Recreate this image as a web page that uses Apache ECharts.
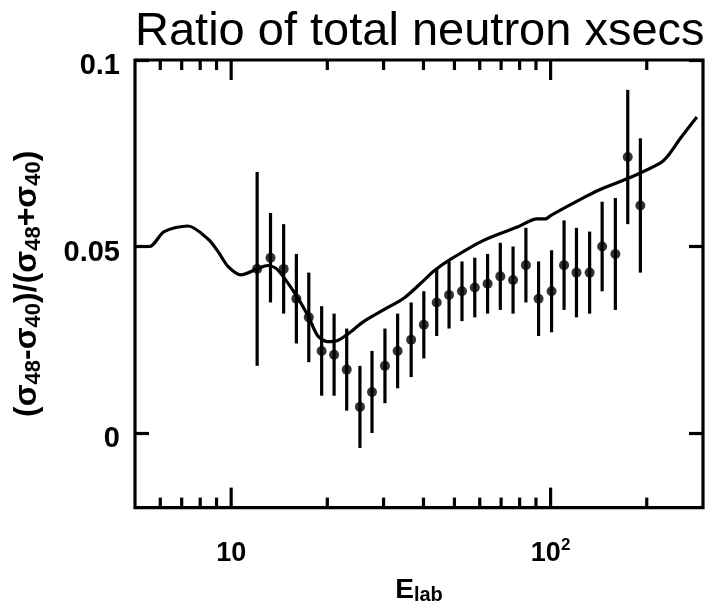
<!DOCTYPE html>
<html>
<head>
<meta charset="utf-8">
<script src="https://cdn.jsdelivr.net/npm/echarts@6/dist/echarts.min.js"></script>
<style>
html,body{margin:0;padding:0;background:#fff;}
#chart{width:712px;height:610px;}
</style>
</head>
<body>
<div id="chart"></div>
<script>
// Measured data points: energy (E_lab), ratio, error
var energy = [12.06, 13.28, 14.6, 16.0, 17.5, 19.2, 21.0, 23.0, 25.3, 27.6, 30.3, 33.2, 36.6, 40.1, 44.0, 48.1, 52.8, 57.9, 63.5, 69.6, 76.3, 83.7, 91.7, 100.7, 110.2, 120.5, 132.5, 145, 159.5, 174.4, 191];
var ratio  = [0.044, 0.047, 0.044, 0.036, 0.031, 0.022, 0.021, 0.017, 0.007, 0.011, 0.018, 0.022, 0.025, 0.029, 0.035, 0.037, 0.038, 0.039, 0.040, 0.042, 0.041, 0.045, 0.036, 0.038, 0.045, 0.043, 0.043, 0.050, 0.048, 0.074, 0.061];
var errors = [0.026, 0.012, 0.012, 0.012, 0.012, 0.012, 0.011, 0.011, 0.011, 0.011, 0.010, 0.010, 0.010, 0.009, 0.009, 0.009, 0.008, 0.008, 0.008, 0.009, 0.009, 0.010, 0.010, 0.011, 0.012, 0.012, 0.011, 0.012, 0.015, 0.018, 0.018];

// Theory curve
var curveE = [5, 5.55, 6.17, 7.32, 8.46, 9.09, 9.77, 10.74, 12.06, 13.02, 14.0, 16.0, 17.5, 18.66, 20.05, 21.55, 23.15, 26.1, 30.1, 34.8, 40.2, 43.2, 48.7, 61.9, 78.7, 90.8, 96.5, 100, 127, 143, 182, 221, 232, 255, 287];
var curveV = [0.050, 0.050, 0.054, 0.0555, 0.052, 0.0487, 0.0447, 0.0424, 0.044, 0.0449, 0.0437, 0.0368, 0.031, 0.0261, 0.0245, 0.0248, 0.0265, 0.030, 0.0331, 0.0362, 0.041, 0.0435, 0.0466, 0.0517, 0.0552, 0.0574, 0.0574, 0.0583, 0.0631, 0.0653, 0.0689, 0.0724, 0.0741, 0.079, 0.0847];

// Axis ticks
var xMajorTicks = [10, 100];
var xMinorTicks = [6, 7, 8, 9, 20, 30, 40, 50, 60, 70, 80, 90, 200];
var yTicks = [0, 0.05, 0.1];
var X_MIN = 5, X_MAX = 300, Y_MIN = -0.02, Y_MAX = 0.1;

var FONT = 'Liberation Sans';

var errData = energy.map(function (e, i) { return [e, ratio[i] - errors[i], ratio[i] + errors[i]]; });
var ptData = energy.map(function (e, i) { return [e, ratio[i]]; });
var curveData = curveE.map(function (e, i) { return [e, curveV[i]]; });
var tickData = xMajorTicks.map(function (v) { return [v, 1]; }).concat(xMinorTicks.map(function (v) { return [v, 0]; }));

var chart = echarts.init(document.getElementById('chart'), null, {renderer: 'canvas'});
var LW = 3.2;

chart.setOption({
  animation: false,
  backgroundColor: '#fff',
  title: {
    text: 'Ratio of total neutron xsecs',
    left: 130, top: 4,
    textStyle: {fontFamily: FONT, fontSize: 47, fontWeight: 'normal', color: '#000'}
  },
  grid: {left: 135, right: 9, top: 60, bottom: 98, show: true, borderColor: '#000', borderWidth: LW, backgroundColor: 'transparent'},
  xAxis: {
    type: 'log', logBase: 10, min: X_MIN, max: X_MAX,
    axisLine: {show: false}, axisTick: {show: false}, splitLine: {show: false}, minorTick: {show: false},
    name: '{e|E}{l|lab}', nameLocation: 'middle', nameGap: 52,
    nameTextStyle: {fontFamily: FONT, color: '#000', fontWeight: 'bold',
      rich: {
        e: {fontFamily: FONT, fontSize: 28, fontWeight: 'bold', color: '#000', lineHeight: 30},
        l: {fontFamily: FONT, fontSize: 20, fontWeight: 'bold', color: '#000', lineHeight: 20, padding: [10, 0, 0, 0]}
      }},
    axisLabel: {
      margin: 30,
      showMinLabel: false, showMaxLabel: false,
      formatter: function (v) {
        if (Math.abs(v - 10) < 1e-6) return '{b|10}';
        if (Math.abs(v - 100) < 1e-6) return '{b|10}{p|2}';
        return '';
      },
      rich: {
        b: {fontFamily: FONT, fontSize: 27, fontWeight: 'bold', color: '#000', lineHeight: 32},
        p: {fontFamily: FONT, fontSize: 17, fontWeight: 'bold', color: '#000', lineHeight: 16, padding: [0, 0, 16, 0]}
      }
    }
  },
  yAxis: [{
    type: 'value', min: Y_MIN, max: Y_MAX, position: 'left',
    axisLine: {show: false}, splitLine: {show: false},
    axisTick: {show: true, inside: true, length: 14, customValues: yTicks, lineStyle: {color: '#000', width: LW}},
    axisLabel: {customValues: yTicks, margin: 15,
      formatter: function (v) { return '{v|' + String(Math.round(v * 100) / 100) + '}'; },
      rich: {v: {fontFamily: FONT, fontSize: 29, fontWeight: 'bold', color: '#000', lineHeight: 30, padding: [12, 0, 0, 0]}}
    },
    name: '{m|(σ}{s|48}{m|-σ}{s|40}{m|)/(σ}{s|48}{m|+σ}{s|40}{m|)}',
    nameLocation: 'middle', nameRotate: 90, nameGap: 88,
    nameTextStyle: {fontFamily: FONT, color: '#000', fontWeight: 'bold',
      rich: {
        m: {fontFamily: FONT, fontSize: 32, fontWeight: 'bold', color: '#000', lineHeight: 40},
        s: {fontFamily: FONT, fontSize: 22, fontWeight: 'bold', color: '#000', lineHeight: 22, padding: [14, 0, 0, 0]}
      }}
  }, {
    type: 'value', min: Y_MIN, max: Y_MAX, position: 'right',
    axisLine: {show: false}, splitLine: {show: false}, axisLabel: {show: false},
    axisTick: {show: true, inside: true, length: 14, customValues: yTicks, lineStyle: {color: '#000', width: LW}}
  }],
  series: [
    {
      type: 'custom', name: 'xticks', clip: false, silent: true,
      data: tickData,
      renderItem: function (params, api) {
        var cs = params.coordSys;
        var x = api.coord([api.value(0), Y_MIN])[0];
        var len = api.value(1) ? 20 : 10;
        var yb = cs.y + cs.height, yt = cs.y;
        var st = {stroke: '#000', lineWidth: LW};
        return {type: 'group', children: [
          {type: 'line', shape: {x1: x, y1: yb, x2: x, y2: yb - len}, style: st},
          {type: 'line', shape: {x1: x, y1: yt, x2: x, y2: yt + len}, style: st}
        ]};
      }
    },
    {
      type: 'line', name: 'theory', data: curveData, smooth: 0.3, showSymbol: false, symbol: 'none',
      lineStyle: {color: '#000', width: LW}, z: 3
    },
    {
      type: 'custom', name: 'errors', data: errData,
      encode: {x: 0, y: [1, 2]},
      renderItem: function (params, api) {
        var p1 = api.coord([api.value(0), api.value(1)]);
        var p2 = api.coord([api.value(0), api.value(2)]);
        return {type: 'line', shape: {x1: p1[0], y1: p1[1], x2: p2[0], y2: p2[1]}, style: {stroke: '#000', lineWidth: LW}};
      }, z: 4
    },
    {
      type: 'scatter', name: 'data', data: ptData, symbol: 'circle', symbolSize: 10,
      itemStyle: {color: '#000'}, z: 5
    }
  ]
});
</script>
</body>
</html>
